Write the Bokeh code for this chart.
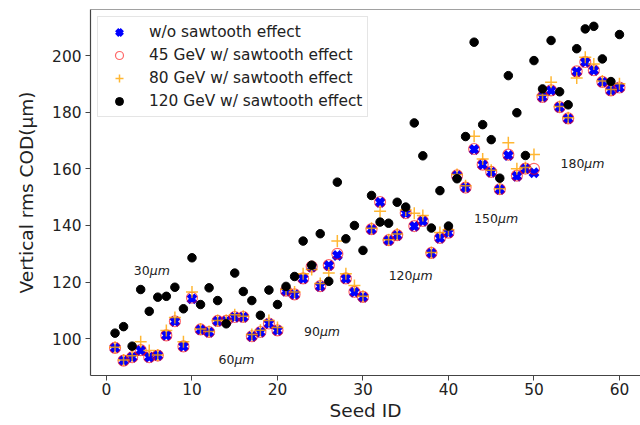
from bokeh.plotting import figure
from bokeh.models import Range1d, Span, Legend, LegendItem, FixedTicker, ColumnDataSource
from bokeh.core.properties import value
from bokeh.embed import file_html
from bokeh.resources import INLINE

seed = list(range(1, 61))
wo_sawtooth = [96.8, 92.3, 93.5, 95.9, 93.5, 94.1, 101.2, 106.1, 97.3, 114.1,
               103.2, 102.3, 106.2, 106.2, 107.6, 107.6, 100.8, 102.3, 105.3, 102.9,
               116.8, 115.6, 121.2, 125.3, 118.5, 125.9, 129.4, 121.2, 116.4, 114.7,
               138.6, 148.2, 134.7, 136.5, 144.3, 139.7, 141.5, 130.2, 135.5, 137.4,
               157.6, 153.3, 166.8, 161.4, 158.8, 152.7, 164.7, 157.4, 160.0, 158.6,
               185.3, 187.6, 181.7, 177.7, 194.3, 197.6, 194.7, 190.6, 187.6, 188.6]
gev45 = [96.8, 92.3, 93.5, 96.0, 93.5, 94.1, 101.2, 106.2, 97.3, 114.5,
         103.3, 102.4, 106.3, 106.3, 107.7, 107.7, 100.9, 102.4, 105.4, 103.0,
         117.0, 115.7, 121.3, 125.5, 118.6, 126.0, 130.0, 121.3, 116.6, 114.8,
         138.7, 148.3, 134.8, 136.6, 144.4, 139.8, 141.6, 130.3, 135.6, 137.5,
         157.7, 153.4, 167.0, 161.5, 158.9, 152.8, 165.0, 157.6, 160.1, 160.0,
         185.4, 187.7, 181.8, 177.8, 194.4, 197.7, 194.8, 190.7, 187.7, 188.7]
gev80 = [97.0, 92.5, 94.0, 99.0, 95.9, 94.3, 102.9, 107.5, 99.0, 116.5,
         103.5, 102.6, 106.5, 106.5, 108.5, 108.0, 101.5, 103.0, 106.5, 104.0,
         117.5, 116.5, 123.0, 124.5, 119.5, 123.2, 134.5, 123.0, 118.8, 115.0,
         139.0, 145.0, 135.0, 137.0, 145.5, 144.3, 143.5, 130.5, 137.5, 138.5,
         158.0, 154.0, 171.5, 163.5, 159.5, 153.0, 169.2, 160.0, 160.5, 165.1,
         186.0, 190.6, 182.0, 178.0, 192.1, 199.4, 197.0, 191.0, 188.0, 190.0]
gev120 = [102.0, 104.3, 97.4, 117.4, 109.7, 114.7, 115.0, 118.2, 110.6, 128.6,
          112.1, 118.0, 113.5, 105.3, 123.2, 116.7, 113.5, 108.3, 117.2, 112.1,
          118.5, 122.0, 134.5, 126.0, 137.1, 120.3, 155.3, 135.3, 140.0, 131.2,
          150.6, 141.2, 140.8, 148.2, 146.5, 176.2, 164.6, 139.1, 152.3, 139.8,
          156.5, 171.4, 204.7, 175.6, 170.3, 156.7, 192.9, 179.8, 164.7, 198.2,
          188.2, 205.3, 187.2, 182.6, 202.4, 209.4, 210.3, 198.8, 190.8, 207.4]

group_nums = ["30", "60", "90", "120", "150", "180"]
group_x = [3.2, 13.1, 23.1, 33.0, 43.0, 53.1]
group_y = [124.0, 92.6, 102.5, 122.4, 142.3, 161.9]
x_ticks = [0, 10, 20, 30, 40, 50, 60]
y_ticks = [100, 120, 140, 160, 180, 200]

FONT = "DejaVu Sans"
AX = "#444444"
TXT = "#222222"

src = ColumnDataSource(dict(seed=seed, wo=wo_sawtooth, g45=gev45, g80=gev80, g120=gev120))

p = figure(width=640, height=425, output_backend="svg", toolbar_location=None,
           x_range=Range1d(-1.87, 62.46), y_range=Range1d(87.05, 216.24),
           min_border_left=90, min_border_right=0, min_border_top=9, min_border_bottom=50)
p.outline_line_color = None
p.xgrid.visible = False
p.ygrid.visible = False
p.background_fill_color = "white"
p.border_fill_color = "white"

r_wo = p.scatter("seed", "wo", source=src, marker="x", size=11, line_width=4.5,
                 line_color="blue")
r45 = p.scatter("seed", "g45", source=src, marker="circle", size=11, line_width=1.2,
                line_color="red", line_alpha=0.6, fill_color=None)
r80 = p.scatter("seed", "g80", source=src, marker="cross", size=12, line_width=1.5,
                line_color="orange", line_alpha=0.8)
r120 = p.scatter("seed", "g120", source=src, marker="circle", size=8.5,
                 fill_color="black", line_color="black")

# top spine
p.add_layout(Span(location=216.24, dimension="width", line_color=AX, line_width=1.2))

# group annotations
tsrc = ColumnDataSource(dict(x=group_x, y=group_y, t=group_nums,
                             off=[len(s) * 7.95 for s in group_nums],
                             mu=["\u03bcm"] * len(group_nums)))
p.text("x", "y", text="t", source=tsrc, text_font=value(FONT), text_font_size="12.5px",
       text_color=TXT, text_align="left", text_baseline="alphabetic")
p.text("x", "y", text="mu", source=tsrc, x_offset="off", text_font=value(FONT),
       text_font_size="12.5px", text_font_style="italic", text_color=TXT,
       text_align="left", text_baseline="alphabetic")

for ax in (p.xaxis[0], p.yaxis[0]):
    ax.axis_line_color = AX
    ax.axis_line_width = 1.2
    ax.major_tick_line_color = AX
    ax.major_tick_out = 5
    ax.major_tick_in = 0
    ax.minor_tick_line_color = None
    ax.major_label_text_font = FONT
    ax.major_label_text_font_size = "15.4px"
    ax.major_label_text_color = TXT
    ax.axis_label_text_font = FONT
    ax.axis_label_text_font_size = "18.5px"
    ax.axis_label_text_font_style = "normal"
    ax.axis_label_text_color = TXT

p.xaxis.ticker = FixedTicker(ticks=x_ticks)
p.yaxis.ticker = FixedTicker(ticks=y_ticks)
p.xaxis.axis_label = "Seed ID"
p.yaxis.axis_label = "Vertical rms COD(\u03bcm)"
p.xaxis.major_label_standoff = 2
p.xaxis.axis_label_standoff = 2
p.yaxis.major_label_standoff = 4
p.yaxis.axis_label_standoff = 12

legend = Legend(items=[
    LegendItem(label="w/o sawtooth effect", renderers=[r_wo]),
    LegendItem(label="45 GeV w/ sawtooth effect", renderers=[r45]),
    LegendItem(label="80 GeV w/ sawtooth effect", renderers=[r80]),
    LegendItem(label="120 GeV w/ sawtooth effect", renderers=[r120]),
], location="top_left")
legend.margin = 7
legend.padding = 5
legend.spacing = 3
legend.glyph_width = 32
legend.glyph_height = 20
legend.label_height = 20
legend.label_standoff = 14
legend.label_text_font = FONT
legend.label_text_font_size = "15.4px"
legend.label_text_color = TXT
legend.border_line_color = "#cccccc"
legend.border_line_width = 1
legend.background_fill_color = "white"
legend.background_fill_alpha = 0.8
p.add_layout(legend)

open("out.html", "w").write(file_html(p, INLINE))
